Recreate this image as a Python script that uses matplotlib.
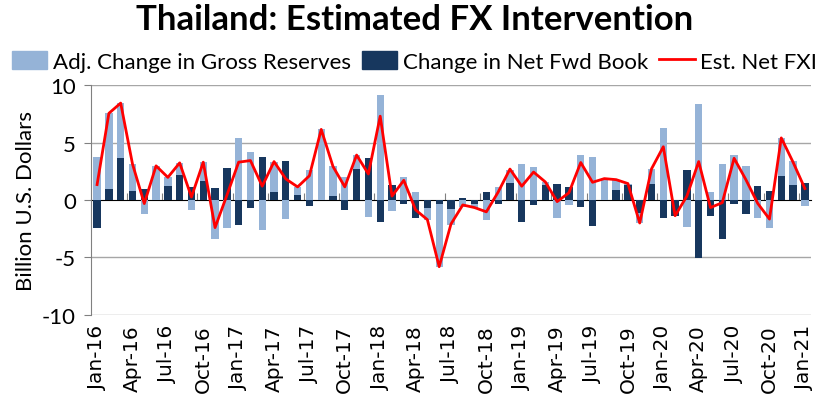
import numpy as np
import matplotlib
matplotlib.use("Agg")
import matplotlib.pyplot as plt
from matplotlib.patches import Patch
from matplotlib.lines import Line2D

months = ["Jan-16","Feb-16","Mar-16","Apr-16","May-16","Jun-16","Jul-16","Aug-16","Sep-16","Oct-16","Nov-16","Dec-16",
          "Jan-17","Feb-17","Mar-17","Apr-17","May-17","Jun-17","Jul-17","Aug-17","Sep-17","Oct-17","Nov-17","Dec-17",
          "Jan-18","Feb-18","Mar-18","Apr-18","May-18","Jun-18","Jul-18","Aug-18","Sep-18","Oct-18","Nov-18","Dec-18",
          "Jan-19","Feb-19","Mar-19","Apr-19","May-19","Jun-19","Jul-19","Aug-19","Sep-19","Oct-19","Nov-19","Dec-19",
          "Jan-20","Feb-20","Mar-20","Apr-20","May-20","Jun-20","Jul-20","Aug-20","Sep-20","Oct-20","Nov-20","Dec-20",
          "Jan-21"]

gross_reserves = [3.77, 6.57, 4.80, 2.37, -1.23, 2.97, 0.77, 1.03, -0.86, 1.66, -3.37, -2.43,
                  5.40, 4.14, -2.57, 2.65, -1.66, 0.68, 2.63, 6.14, 2.66, 1.97, 1.22, -1.46,
                  9.11, -0.94, 2.00, 0.71, -1.00, -5.46, -1.34, -0.57, -0.32, -1.71, 1.09, 1.14,
                  3.09, 2.89, 0.23, -1.57, -0.43, 3.91, 3.77, 1.86, 0.85, 0.09, -0.86, 1.28,
                  6.26, 0.00, -2.31, 8.37, 0.69, 3.17, 3.94, 3.00, -1.57, -2.40, 3.34, 2.03,
                  -0.51]

net_fwd_book = [-2.40, 0.97, 3.63, 0.77, 0.97, 0.00, 1.20, 2.20, 1.14, 1.63, 1.06, 2.77,
                -2.17, -0.71, 3.77, 0.69, 3.40, 0.46, -0.51, 0.00, 0.31, -0.89, 2.69, 3.69,
                -1.89, 1.29, -0.31, -1.60, -0.71, -0.34, -0.80, 0.14, -0.34, 0.71, -0.34, 1.49,
                -1.94, -0.46, 1.34, 1.40, 1.11, -0.60, -2.29, 0.00, 0.86, 1.34, -1.14, 1.43,
                -1.60, -1.37, 2.63, -5.03, -1.43, -3.37, -0.37, -1.26, 1.26, 0.77, 2.06, 1.34,
                1.46]

est_net_fxi = [1.34, 7.54, 8.43, 3.14, -0.31, 2.97, 1.97, 3.23, 0.26, 3.29, -2.40, 0.40,
               3.29, 3.43, 1.20, 3.34, 1.83, 1.14, 2.11, 6.14, 2.91, 1.14, 3.91, 2.26,
               7.29, 0.34, 1.71, -0.86, -1.71, -5.80, -2.09, -0.43, -0.66, -1.03, 0.69, 2.69,
               1.20, 2.43, 1.57, -0.14, 0.63, 3.26, 1.54, 1.86, 1.77, 1.43, -2.00, 2.71,
               4.63, -1.37, 0.34, 3.34, -0.66, -0.23, 3.63, 1.77, -0.29, -1.66, 5.40, 3.29,
               1.00]

yticks = [-10, -5, 0, 5, 10]
label_step = 3

LIGHT = "#95B3D7"
DARK = "#17375E"
GRID = "#A6A6A6"

fig = plt.figure(figsize=(8.29, 4.02), dpi=100)
ax = fig.add_axes([0.110, 0.214, 0.868, 0.572])

x = np.arange(len(months))
gr = np.array(gross_reserves)
fb = np.array(net_fwd_book)
light_bottom = np.where(np.sign(gr) == np.sign(fb), fb, 0.0)
w = 0.62

ax.bar(x, fb, width=w, color=DARK, zorder=3)
ax.bar(x, gr, width=w, bottom=light_bottom, color=LIGHT, zorder=3)
ax.plot(x, est_net_fxi, color="#FF0000", lw=2.0, zorder=5)

ax.set_xlim(-0.5, len(months) - 0.5)
ax.set_ylim(-10, 10)
ax.set_yticks(yticks)
ax.set_yticklabels([str(t) for t in yticks], fontfamily="Lato", fontsize=16)
for t in [-10, -5, 5, 10]:
    ax.axhline(t, color=GRID, lw=1.0, zorder=1)

ax.set_xticks(x[::label_step])
ax.set_xticklabels(months[::label_step], rotation=90, fontfamily="DejaVu Sans", fontsize=14.5)
ax.tick_params(axis="x", length=0, pad=7)
ax.tick_params(axis="y", length=5, color="#808080", direction="out", pad=6)

for s in ["top", "right", "bottom"]:
    ax.spines[s].set_visible(False)
ax.spines["left"].set_color("#808080")

# zero axis with tick marks every 3 months (between categories)
sec = ax.secondary_xaxis(0.5)
sec.set_xticks(np.arange(-0.5, len(months), label_step)[1:])
sec.set_xticklabels([])
sec.tick_params(length=5, color="#808080", direction="out")
sec.spines["bottom"].set_color("#808080")
sec.spines["bottom"].set_linewidth(1.5)
sec.spines["bottom"].set_zorder(4)

ax.set_ylabel("Billion U.S. Dollars", fontfamily="Lato", fontsize=16, labelpad=4)

fig.suptitle("Thailand: Estimated FX Intervention", fontfamily="Lato", fontweight="bold",
             fontsize=25, y=0.99)

handles = [Patch(color=LIGHT), Patch(color=DARK), Line2D([], [], color="#FF0000", lw=2.0)]
labels = ["Adj. Change in Gross Reserves", "Change in Net Fwd Book", "Est. Net FXI"]
fig.legend(handles, labels, loc="center", bbox_to_anchor=(0.5, 0.845), ncol=3, frameon=False,
           prop={"family": "Lato", "size": 16}, handlelength=1.6, handleheight=0.9,
           handletextpad=0.25, columnspacing=0.5, borderaxespad=0)

fig.savefig("out.png", dpi=100)
